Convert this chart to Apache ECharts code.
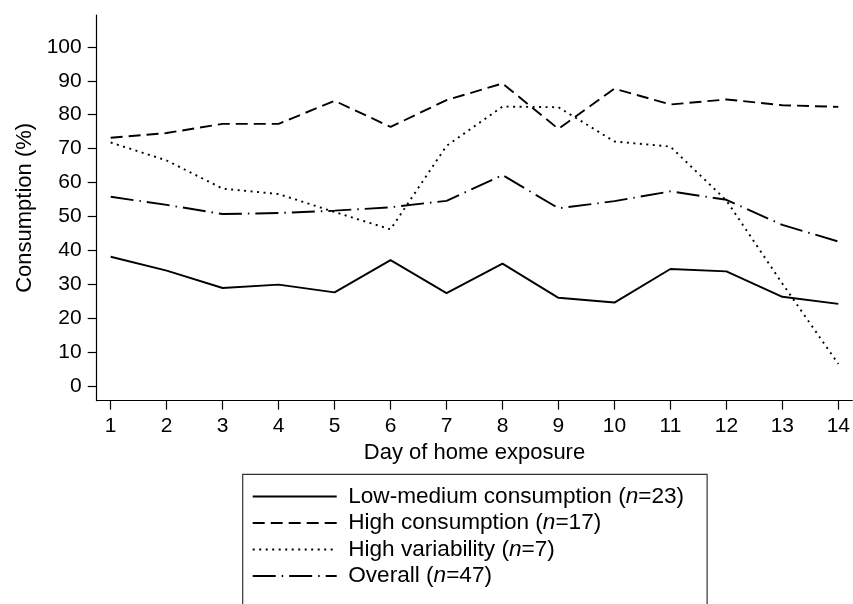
<!DOCTYPE html>
<html>
<head>
<meta charset="utf-8">
<script src="https://cdn.jsdelivr.net/npm/echarts@6/dist/echarts.min.js"></script>
<style>html,body{margin:0;padding:0;background:#fff}#c{width:853px;height:604px}</style>
</head>
<body>
<div id="c"></div>
<script>
const days = [1,2,3,4,5,6,7,8,9,10,11,12,13,14];
const yTicks = [0,10,20,30,40,50,60,70,80,90,100];
const lowMedium = [38.1,34.0,28.9,29.9,27.6,37.1,27.4,36.1,26.0,24.6,34.5,33.8,26.3,24.2];
const highConsumption = [73.2,74.6,77.3,77.3,84.1,76.4,84.3,89.2,75.8,87.7,83.0,84.5,82.8,82.3];
const highVariability = [71.8,66.5,58.2,56.6,51.3,46.2,70.8,82.4,82.2,72.1,70.6,54.7,30.2,6.5];
const overall = [55.8,53.4,50.7,51.0,51.7,52.7,54.6,62.2,52.4,54.5,57.4,54.9,47.5,42.6];

const seriesNames = ['Low-medium consumption', 'High consumption', 'High variability', 'Overall'];
const seriesN = [23, 17, 7, 47];

const FONT = '"Liberation Sans", Arial, Helvetica, sans-serif';
const chart = echarts.init(document.getElementById('c'), null, {renderer: 'canvas'});

function mk(name, vals, type) {
  return {
    name: name, type: 'line', symbol: 'none', silent: true,
    data: days.map((d, i) => [d, vals[i]]),
    lineStyle: {color: '#000', width: 1.9, type: type, cap: 'butt'},
    itemStyle: {color: '#000'}
  };
}

const LF = 22.6;

chart.setOption({
  animation: false,
  backgroundColor: '#fff',
  grid: {left: 96.7, top: 15, width: 756.5, height: 385.7, containLabel: false},
  xAxis: {
    type: 'value', min: 0.75, max: 14.25,
    name: 'Day of home exposure', nameLocation: 'middle', nameGap: 40,
    nameTextStyle: {color: '#000', fontSize: 22, fontFamily: FONT},
    axisLine: {show: true, onZero: false, lineStyle: {color: '#000', width: 1.2}},
    axisTick: {show: true, length: 9, customValues: days, lineStyle: {color: '#000', width: 1.2}},
    axisLabel: {customValues: days, color: '#000', fontSize: 21, fontFamily: FONT, margin: 15},
    splitLine: {show: false}
  },
  yAxis: {
    type: 'value', min: -4.34, max: 109.4,
    name: 'Consumption (%)', nameLocation: 'middle', nameGap: 60.5, nameRotate: 90,
    nameTextStyle: {color: '#000', fontSize: 22, fontFamily: FONT},
    axisLine: {show: true, onZero: false, lineStyle: {color: '#000', width: 1.2}},
    axisTick: {show: true, length: 9, customValues: yTicks, lineStyle: {color: '#000', width: 1.2}},
    axisLabel: {customValues: yTicks, color: '#000', fontSize: 21, fontFamily: FONT, margin: 15},
    splitLine: {show: false}
  },
  legend: {
    show: true, orient: 'vertical', left: 242.7, top: 474.3, height: 240,
    itemWidth: 84, itemHeight: 14, itemGap: 3.5,
    padding: [10.7, 23, 40, 9],
    borderColor: '#333', borderWidth: 1.2, borderRadius: 0,
    selectedMode: false,
    itemStyle: {opacity: 0, color: 'rgba(0,0,0,0)', borderWidth: 0},
    data: seriesNames,
    formatter: function (name) {
      const i = seriesNames.indexOf(name);
      return '{s|}{a|' + name + ' (}{i|n}{a|=' + seriesN[i] + ')}';
    },
    textStyle: {
      color: '#000', fontSize: LF, fontFamily: FONT,
      rich: {
        s: {width: 6.5, fontSize: LF, lineHeight: 22},
        a: {color: '#000', fontSize: LF, fontFamily: FONT, lineHeight: 22},
        i: {color: '#000', fontSize: LF, fontFamily: FONT, fontStyle: 'italic', lineHeight: 22}
      }
    }
  },
  series: [
    mk(seriesNames[0], lowMedium, 'solid'),
    mk(seriesNames[1], highConsumption, [12, 6]),
    mk(seriesNames[2], highVariability, [2, 4.5]),
    mk(seriesNames[3], overall, [23, 6, 1.5, 6])
  ]
});
</script>
</body>
</html>
